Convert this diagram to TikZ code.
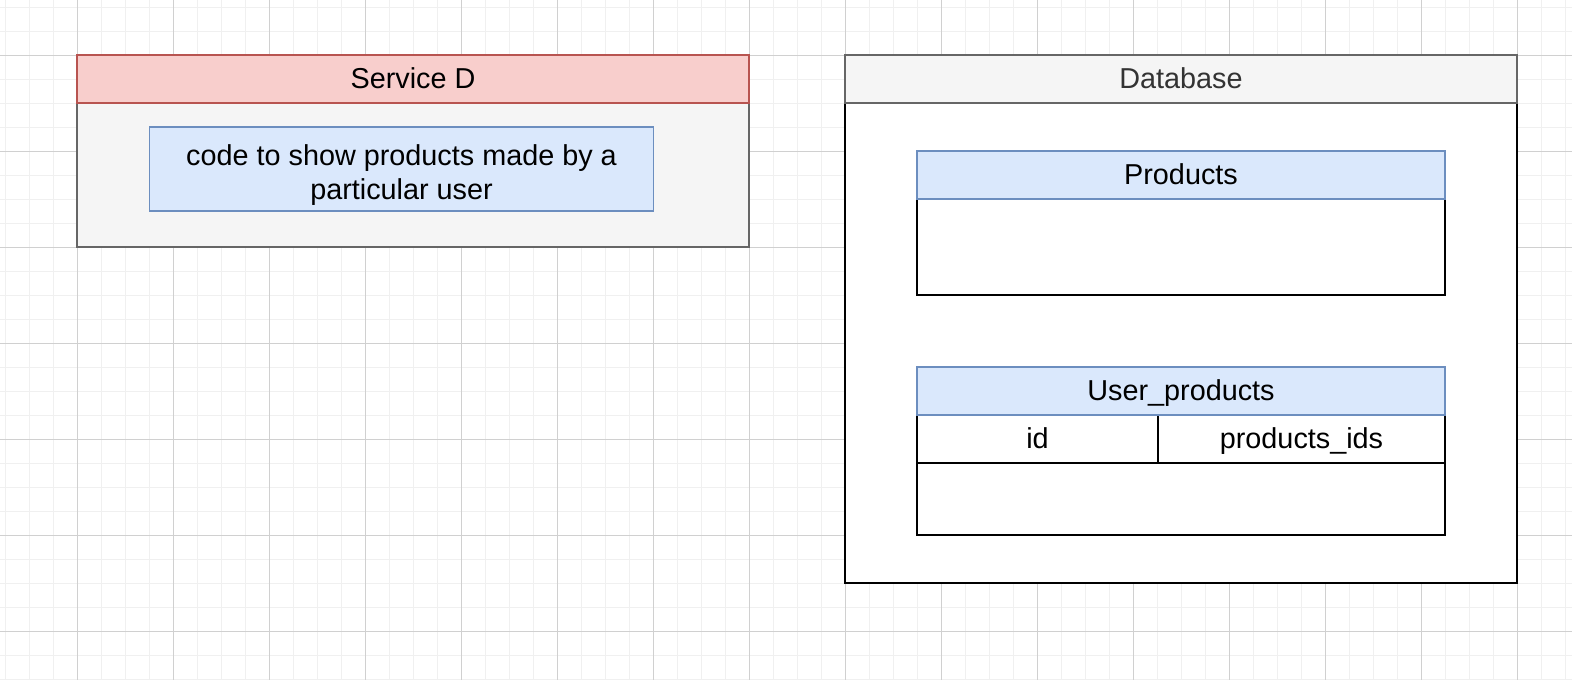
\documentclass[tikz,border=0pt]{standalone}
\usepackage{fontspec}
\setmainfont{Liberation Sans}
\definecolor{redfill}{HTML}{F8CECC}
\definecolor{redline}{HTML}{B85450}
\definecolor{grayfill}{HTML}{F5F5F5}
\definecolor{grayline}{HTML}{666666}
\definecolor{bluefill}{HTML}{DAE8FC}
\definecolor{blueline}{HTML}{6C8EBF}
\definecolor{minorgrid}{HTML}{F0F0F0}
\definecolor{majorgrid}{HTML}{D0D0D0}
\definecolor{dbtext}{HTML}{333333}
\tikzset{
  box/.style={rectangle, inner sep=0pt, line width=1.9pt, font=\fontsize{28.8}{34.5}\selectfont, align=center},
  oneline/.style={text height=20.5pt, text depth=2.5pt},
  redhead/.style={box, oneline, fill=redfill, draw=redline},
  grayhead/.style={box, oneline, fill=grayfill, draw=grayline, text=dbtext},
  graybody/.style={box, fill=grayfill, draw=grayline},
  bluebox/.style={box, fill=bluefill, draw=blueline},
  bluehead/.style={bluebox, oneline},
  whitebox/.style={box, fill=white, draw=black},
  cell/.style={whitebox, oneline},
  minorline/.style={draw=minorgrid, line width=1pt},
  majorline/.style={draw=majorgrid, line width=1pt}
}
\begin{document}
\begin{tikzpicture}[x=1pt, y=-1pt]
\useasboundingbox (0,0) rectangle (1572,680);
\fill[white] (0,0) rectangle (1572,680);
% grid
\foreach \x in {5,29,...,1572} \draw[minorline] (\x,0) -- (\x,680);
\foreach \y in {7,31,...,680} \draw[minorline] (0,\y) -- (1572,\y);
\foreach \x in {77,173,...,1572} \draw[majorline] (\x,0) -- (\x,680);
\foreach \y in {55,151,...,680} \draw[majorline] (0,\y) -- (1572,\y);
% Service D
\node[graybody, minimum width=672pt, minimum height=144pt] (sbody) at (413,175) {};
\node[redhead, minimum width=672pt, minimum height=48pt] (shead) at (413,79) {Service D};
\node[bluebox, minimum width=504pt, minimum height=84pt] (code) at (401.5,169) {\smash{\raisebox{-13pt}{\begin{tabular}{@{}c@{}}code to show products made by a\\particular user\end{tabular}}}};
% Database
\node[whitebox, minimum width=672pt, minimum height=480pt] (dbody) at (1181,343) {};
\node[grayhead, minimum width=672pt, minimum height=48pt] (dhead) at (1181,79) {Database};
% Products
\node[whitebox, minimum width=528pt, minimum height=96pt] (pbody) at (1181,247) {};
\node[bluehead, minimum width=528pt, minimum height=48pt] (phead) at (1181,175) {Products};
% User_products
\node[whitebox, minimum width=528pt, minimum height=72pt] (ubody) at (1181,499) {};
\node[cell, minimum width=241pt, minimum height=48pt] (uid) at (1037.5,439) {id};
\node[cell, minimum width=287pt, minimum height=48pt] (upids) at (1301.5,439) {products\_ids};
\node[bluehead, minimum width=528pt, minimum height=48pt] (uhead) at (1181,391) {User\_products};
\end{tikzpicture}
\end{document}
